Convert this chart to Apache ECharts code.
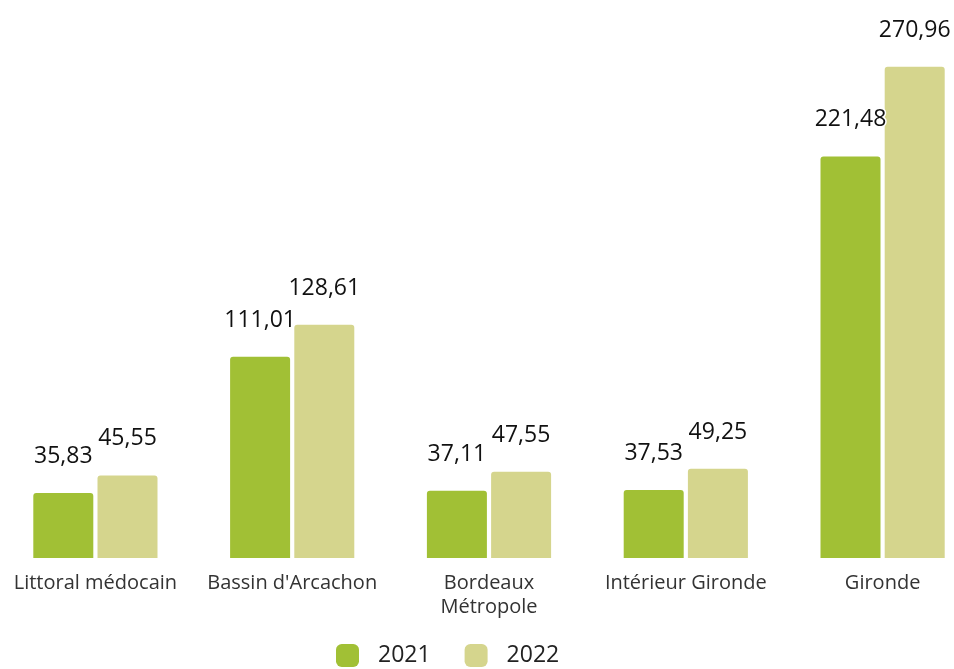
<!DOCTYPE html>
<html><head><meta charset="utf-8">
<script src="https://cdn.jsdelivr.net/npm/echarts@6/dist/echarts.min.js"></script>
<style>html,body{margin:0;padding:0;background:#fff}#c{width:954px;height:669px}</style>
</head><body><div id="c"></div>
<script>
const categories = ["Littoral médocain", "Bassin d'Arcachon", "Bordeaux\nMétropole", "Intérieur Gironde", "Gironde"];
const seriesNames = ["2021", "2022"];
const values2021 = [35.83, 111.01, 37.11, 37.53, 221.48];
const values2022 = [45.55, 128.61, 47.55, 49.25, 270.96];
const colors = ["#a1c035", "#d5d58d"];

const fontFam = "'Open Sans', 'Noto Sans', sans-serif";
const fmt = p => p.value.toFixed(2).replace('.', ',');
function mk(name, data, color) {
  return {
    name, type: 'bar', data, barWidth: 60, barGap: '7%',
    itemStyle: { color, borderRadius: [3, 3, 0, 0] },
    label: {
      show: true, position: 'top', distance: 25, formatter: fmt,
      fontFamily: fontFam, fontSize: 23, color: '#111',
      textBorderColor: '#fff', textBorderWidth: 3
    }
  };
}
const chart = echarts.init(document.getElementById('c'));
chart.setOption({
  animation: false,
  grid: { left: -3, right: -27, top: 14, bottom: 111, containLabel: false, outerBoundsMode: 'none' },
  xAxis: {
    type: 'category', data: categories,
    axisLine: { show: false }, axisTick: { show: false },
    axisLabel: { fontFamily: fontFam, fontSize: 20, color: '#333', margin: 13, lineHeight: 24, interval: 0 }
  },
  yAxis: { type: 'value', min: 0, max: 300, show: false, splitLine: { show: false } },
  legend: {
    top: 639, left: 331, itemWidth: 23, itemHeight: 23, itemGap: 34,
    icon: 'roundRect',
    textStyle: { fontFamily: fontFam, fontSize: 23, color: '#222', padding: [0, 0, 0, 14] },
    data: seriesNames
  },
  series: [mk(seriesNames[0], values2021, colors[0]), mk(seriesNames[1], values2022, colors[1])]
});
</script></body></html>
